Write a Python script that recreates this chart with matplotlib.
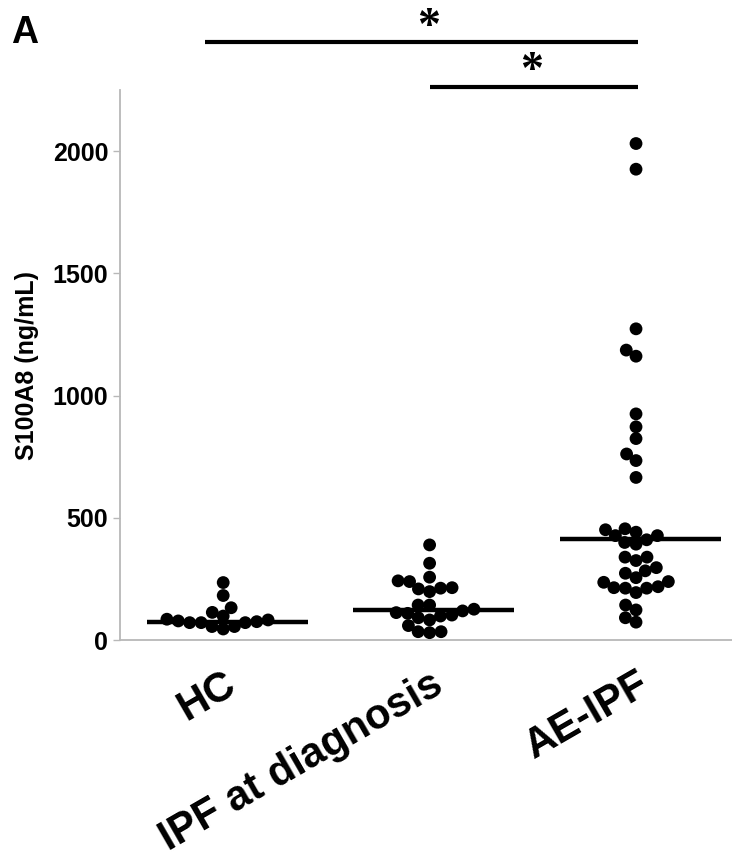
import numpy as np
import matplotlib
matplotlib.use("Agg")
import matplotlib.pyplot as plt
import matplotlib.transforms as mtransforms

plt.rcParams['font.family'] = ['Liberation Sans', 'DejaVu Sans']

groups = ['HC', 'IPF at diagnosis', 'AE-IPF']

# S100A8 (ng/mL)
hc = [235, 182, 132, 113, 98, 82, 85, 78, 71, 55, 45, 55, 71, 75, 71]
ipf = [389, 314, 257, 242, 239, 214, 209, 198, 212, 143, 143, 112, 126,
       102, 98, 109, 119, 91, 82, 59, 34, 30, 34]
ae_ipf = [2031, 1926, 1273, 1186, 1161, 925, 872, 824, 761, 734, 665,
          451, 455, 441, 427, 427, 410, 392, 399, 339, 325, 339, 296, 283,
          273, 255, 236, 239, 212, 214, 212, 218, 194, 143, 123, 91, 73]
medians = [75, 123, 414]

yticks = [0, 500, 1000, 1500, 2000]


def swarm(vals, ax, d):
    # simple beeswarm in pixel units, points placed from low to high
    pts = np.column_stack([np.zeros(len(vals)), vals])
    ypx = ax.transData.transform(pts)[:, 1]
    xs = np.zeros(len(vals))
    placed = []
    for i in np.argsort(ypx):
        y = ypx[i]
        bad = []
        for px, py in placed:
            dy = abs(py - y)
            if dy < d:
                dx = np.sqrt(d * d - dy * dy)
                bad.append((px - dx, px + dx))
        cands = [0.0] + [a for a, b in bad] + [b for a, b in bad]
        cands.sort(key=abs)
        for c in cands:
            if all(not (a + 1e-6 < c < b - 1e-6) for a, b in bad):
                xs[i] = c
                break
        placed.append((xs[i], y))
    return xs


fig = plt.figure(figsize=(7.32, 8.60), dpi=100)
ax = fig.add_axes([120 / 732, 220 / 860, 612 / 732, 550 / 860])
ax.set_xlim(-0.5, 2.465)
ax.set_ylim(0, 2250)

px_per_x = ax.transData.transform((1, 0))[0] - ax.transData.transform((0, 0))[0]

for i, vals in enumerate([hc, ipf, ae_ipf]):
    off = swarm(vals, ax, 11.5)
    ax.scatter(i + off / px_per_x, vals, s=85, color='black', edgecolors='none',
               zorder=3)

xpos = np.arange(len(groups))
ax.hlines(medians, xpos - 0.37, xpos + 0.41, colors='black', lw=3.2, zorder=4)

for s in ['top', 'right']:
    ax.spines[s].set_visible(False)
for s in ['left', 'bottom']:
    ax.spines[s].set_color('#b8b8b8')
    ax.spines[s].set_linewidth(1.3)

ax.set_yticks(yticks)
ax.set_yticklabels([str(t) for t in yticks], fontsize=18, fontweight='bold')
ax.tick_params(axis='y', color='#b8b8b8', length=5, width=1, pad=3.5)

ax.set_xticks(xpos)
ax.set_xticklabels(groups, fontsize=30, fontweight='bold', rotation=30,
                   ha='right', va='center', rotation_mode='anchor')
ax.tick_params(axis='x', length=0, pad=30)
shift = mtransforms.ScaledTranslation(10 / 100, 0, fig.dpi_scale_trans)
for lab in ax.get_xticklabels():
    lab.set_transform(lab.get_transform() + shift)

fig.text(27 / 732, 1 - 366 / 860, 'S100A8 (ng/mL)', rotation=90,
         ha='center', va='center', fontsize=18, fontweight='bold')
fig.text(11 / 732, 1 - 15 / 860, 'A', ha='left', va='top', fontsize=27,
         fontweight='bold')

# significance bars
trans = mtransforms.blended_transform_factory(ax.transData, ax.transAxes)
ax.plot([-0.087, 2.01], [1.0867, 1.0867], color='black', lw=3, transform=trans,
        clip_on=False, solid_capstyle='butt')
ax.plot([1.0, 2.01], [1.0049, 1.0049], color='black', lw=3, transform=trans,
        clip_on=False, solid_capstyle='butt')
ax.text(0.993, 1.113, '*', transform=trans, ha='center', va='center',
        fontsize=33, fontweight='bold', family='Liberation Serif')
ax.text(1.495, 1.033, '*', transform=trans, ha='center', va='center',
        fontsize=33, fontweight='bold', family='Liberation Serif')

fig.savefig('out.png', dpi=100)
